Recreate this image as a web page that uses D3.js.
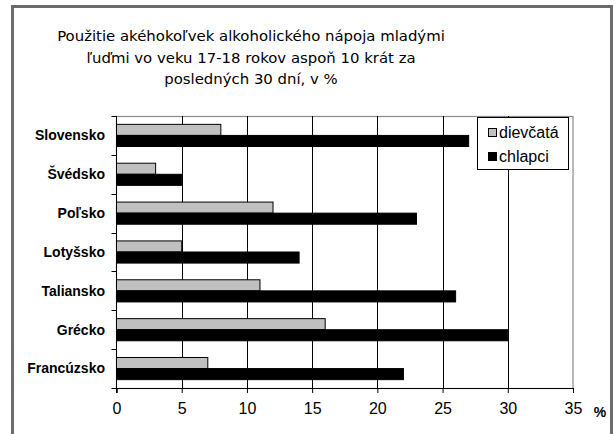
<!DOCTYPE html>
<meta charset="utf-8">
<style>
body { margin: 0; background: #fff; }
text { font-family: "Liberation Sans", Arial, sans-serif; }
</style>
<svg width="616" height="434"></svg>
<script src="https://d3js.org/d3.v7.min.js"></script>
<script>

var categories = ["Slovensko", "Švédsko", "Poľsko", "Lotyšsko", "Taliansko", "Grécko", "Francúzsko"];
var seriesNames = ["dievčatá", "chlapci"];
var girls = [8, 3, 12, 5, 11, 16, 7];
var boys = [27, 5, 23, 14, 26, 30, 22];
var xTicks = [0, 5, 10, 15, 20, 25, 30, 35];
var titleLines = [
  "Použitie akéhokoľvek alkoholického nápoja mladými",
  "ľuďmi vo veku 17-18 rokov aspoň 10 krát za",
  "posledných 30 dní, v %"
];

var svg = d3.select("svg");
var colors = { "dievčatá": "#c0c0c0", "chlapci": "#000000" };

// outer frame
svg.append("rect")
  .attr("x", 12.5).attr("y", 6.5)
  .attr("width", 599).attr("height", 450)
  .attr("fill", "#fff")
  .attr("stroke", "#6b6b6b")
  .attr("stroke-width", 3);

// title
svg.append("g").selectAll("text")
  .data(titleLines)
  .enter().append("text")
  .attr("x", 251)
  .attr("y", function(d, i) { return 41 + i * 21.5; })
  .attr("text-anchor", "middle")
  .style("font-family", "'DejaVu Sans', Verdana, sans-serif")
  .attr("font-size", "14.9px")
  .attr("fill", "#000")
  .text(function(d) { return d; });

var plotLeft = 116.5, plotRight = 573, plotTop = 116, plotBottom = 388;

var x = d3.scaleLinear().domain([0, 35]).range([plotLeft, plotRight]);
var y0 = d3.scaleBand().domain(categories).range([plotTop, plotBottom])
  .paddingInner(0.43).paddingOuter(0.215);
var y1 = d3.scaleBand().domain(seriesNames).range([0, y0.bandwidth()]);

// plot area border
svg.append("rect")
  .attr("x", plotLeft).attr("y", plotTop + 0.5)
  .attr("width", plotRight - plotLeft).attr("height", plotBottom - plotTop)
  .attr("fill", "none")
  .attr("stroke", "#8a8a8a")
  .attr("stroke-width", 1.2);

// gridlines
svg.append("g").selectAll("line")
  .data(xTicks.filter(function(t) { return t > 0 && t < 35; }))
  .enter().append("line")
  .attr("x1", function(d) { return Math.round(x(d)) + 0.5; })
  .attr("x2", function(d) { return Math.round(x(d)) + 0.5; })
  .attr("y1", plotTop).attr("y2", plotBottom)
  .attr("stroke", "#000")
  .attr("stroke-width", 1);

// bars
var rows = categories.map(function(c, i) {
  return { cat: c, values: [
    { name: seriesNames[0], v: girls[i] },
    { name: seriesNames[1], v: boys[i] }
  ] };
});

var groups = svg.append("g").selectAll("g")
  .data(rows)
  .enter().append("g")
  .attr("transform", function(d) { return "translate(0," + y0(d.cat) + ")"; });

groups.selectAll("rect")
  .data(function(d) { return d.values; })
  .enter().append("rect")
  .attr("x", x(0))
  .attr("y", function(d) { return y1(d.name); })
  .attr("width", function(d) { return x(d.v) - x(0); })
  .attr("height", y1.bandwidth())
  .attr("fill", function(d) { return colors[d.name]; })
  .attr("stroke", "#000")
  .attr("stroke-width", 1);

// x axis
var xAxis = svg.append("g")
  .attr("transform", "translate(0," + plotBottom + ")")
  .call(d3.axisBottom(x).tickValues(xTicks).tickSize(5).tickPadding(10));
xAxis.select(".domain").attr("stroke", "#000");
xAxis.selectAll(".tick line").attr("stroke", "#000");
xAxis.selectAll(".tick text")
  .attr("font-size", "16px")
  .style("font-family", "'Liberation Sans', Arial, sans-serif")
  .attr("fill", "#000");

svg.append("text")
  .attr("x", 600).attr("y", 417)
  .attr("text-anchor", "middle")
  .attr("font-size", "14px")
  .attr("font-weight", "bold")
  .text("%");

// y axis (ticks at category boundaries)
var step = y0.step();
svg.append("line")
  .attr("x1", plotLeft).attr("x2", plotLeft)
  .attr("y1", plotTop).attr("y2", plotBottom + 5)
  .attr("stroke", "#000");
var bounds = d3.range(categories.length + 1).map(function(i) { return plotTop + i * step; });
svg.append("g").selectAll("line")
  .data(bounds)
  .enter().append("line")
  .attr("x1", plotLeft - 5).attr("x2", plotLeft)
  .attr("y1", function(d) { return Math.round(d) + 0.5; })
  .attr("y2", function(d) { return Math.round(d) + 0.5; })
  .attr("stroke", "#000");

svg.append("g").selectAll("text")
  .data(categories)
  .enter().append("text")
  .attr("x", 105)
  .attr("y", function(d) { return y0(d) + y0.bandwidth() / 2; })
  .attr("dy", "0.35em")
  .attr("text-anchor", "end")
  .attr("font-size", "14px")
  .attr("font-weight", "bold")
  .text(function(d) { return d; });

// legend
var legend = svg.append("g");
legend.append("rect")
  .attr("x", 477.5).attr("y", 117.5)
  .attr("width", 91).attr("height", 52)
  .attr("fill", "#fff")
  .attr("stroke", "#000");
var li = legend.selectAll("g.item")
  .data(seriesNames)
  .enter().append("g")
  .attr("class", "item")
  .attr("transform", function(d, i) { return "translate(0," + (i * 24) + ")"; });
li.append("rect")
  .attr("x", 488.5).attr("y", 128.5)
  .attr("width", 8).attr("height", 8)
  .attr("fill", function(d) { return colors[d]; })
  .attr("stroke", "#000");
li.append("text")
  .attr("x", 499).attr("y", 132.5)
  .attr("dy", "0.35em")
  .attr("font-size", "16px")
  .text(function(d) { return d; });

</script>
